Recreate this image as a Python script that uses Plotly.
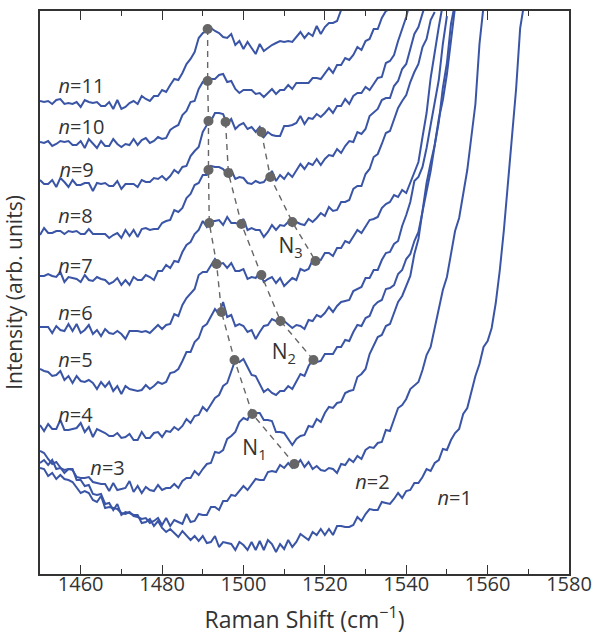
import plotly.graph_objects as go

X_START = 1450  # first Raman shift of every spectrum (cm^-1), 1 cm^-1 sampling

# Spectra (arb. units, vertically offset), one list per number of layers n
n11 = [473,472,473,470,474,475,470,471,470,472, 467,474,472,471,472,468,468,472,465,474,
       465,467,471,473,470,478,475,473,478,478, 484,482,489,495,494,501,510,515,522,536,
       541,543,546,543,541,537,536,540,529,533, 525,532,526,520,530,523,526,529,531,533,
       532,533,532,537,542,536,541,538,548,540, 547,551,551,553,564,566,569]
n10 = [432,431,433,428,430,433,432,433,429,429, 433,426,435,431,426,433,428,428,435,430,
       427,430,429,435,429,434,436,431,433,437, 435,436,444,447,449,459,463,472,473,485,
       492,491,495,495,499,500,492,493,485,481, 484,484,484,480,481,477,481,485,480,484,
       484,489,485,491,491,491,491,496,496,495, 500,506,501,509,509,516,514,519,527,524,
       533,535,545,545,556,563,565]
n9 = [394,390,390,394,387,396,392,387,394,389, 389,391,391,383,391,390,391,388,388,393,
      385,390,390,390,387,394,392,392,396,395, 398,394,398,404,401,407,408,418,423,427,
      442,449,453,461,461,460,450,455,445,449, 451,445,447,442,447,437,442,439,438,438,
      448,448,449,451,458,450,456,455,460,457, 461,466,461,468,468,475,470,478,481,481,
      487,484,490,496,497,511,513,519,533,544, 557,574]
n8 = [339,346,341,341,343,343,340,343,342,343, 340,340,345,340,340,340,340,336,339,341,
      336,344,338,344,337,345,346,344,345,345, 351,353,354,364,362,366,376,380,389,391,
      399,399,408,407,407,405,400,404,395,397, 396,391,390,393,391,392,397,403,393,399,
      395,401,397,403,410,405,411,409,415,409, 415,419,418,425,421,428,433,432,442,440,
      445,458,462,465,474,476,476,488,493,505, 510,525,540,547,562,574]
n7 = [298,298,300,298,297,302,292,297,296,295, 292,299,294,293,297,295,294,290,292,296,
      289,294,289,297,294,294,299,297,294,303, 303,309,306,313,312,322,329,332,340,344,
      353,347,353,353,354,349,357,351,351,350, 355,344,346,344,344,337,342,349,344,349,
      348,352,348,352,350,349,355,352,356,361, 358,367,363,364,372,372,374,385,388,388,
      400,405,417,420,430,441,443,454,466,473, 479,492,502,510,527,535,554,562]
n6 = [247,247,247,241,248,244,243,250,243,250, 241,244,249,240,244,238,245,241,240,243,
      240,235,243,243,243,242,243,241,245,249, 245,249,250,260,258,269,276,280,285,299,
      302,302,309,315,310,311,306,311,303,303, 305,295,297,296,302,292,295,297,291,296,
      288,292,296,294,305,303,305,314,314,314, 321,321,318,326,326,333,331,337,344,341,
      347,354,355,357,366,370,372,379,377,384, 381,391,401,412,437,461,496,523,547,570]
n5 = [205,203,202,198,199,203,194,198,191,198, 193,192,194,191,185,192,187,192,183,188,
      180,188,185,184,183,184,189,185,188,192, 190,192,201,202,205,213,222,222,232,236,
      247,250,257,265,260,272,257,259,248,250, 248,242,244,235,242,248,249,255,253,249,
      253,249,246,249,248,245,254,253,259,257, 261,267,262,268,272,273,274,283,285,287,
      296,296,304,304,314,321,322,330,333,348, 359,372,393,397,407,426,449,472,494,530,
      558]
n4 = [149,143,150,145,145,154,144,144,145,146, 151,142,147,137,145,143,141,138,138,141,
      136,137,140,134,134,142,136,136,141,142, 137,143,142,147,144,148,155,151,158,159,
      167,163,170,176,179,188,191,203,214,212, 215,207,199,198,190,182,185,181,179,183,
      183,188,185,192,200,198,208,214,212,213, 220,220,220,227,227,234,233,242,249,248,
      256,258,268,272,274,285,286,289,300,304, 315,320,333,342,363,384,403,429,452,486,
      511,550,571]
n3 = [111,114,109,114,105,106,104,105,104,97, 96,96,97,92,91,90,90,83,91,84,
      85,86,93,82,88,81,87,84,83,89, 84,86,86,90,86,93,96,96,103,99,
      105,110,111,122,121,124,135,138,142,152, 156,154,163,161,161,154,154,153,142,142,
      141,135,129,135,138,139,148,147,155,152, 161,167,166,171,172,181,183,184,197,200,
      205,220,228,237,239,248,250,262,272,278, 288,298,320,335,363,391,411,429,455,474,
      500,535,567]
n2 = [106,105,98,101,95,99,95,94,92,86, 81,83,81,74,72,78,66,67,66,65,
      61,60,62,58,57,55,56,51,53,56, 49,56,48,54,52,50,60,52,53,60,
      59,59,67,67,64,73,73,79,78,83, 88,84,90,95,94,94,102,103,102,109,
      106,111,106,109,114,107,112,105,108,104, 103,106,105,101,110,109,115,112,118,115,
      124,127,126,131,132,144,143,155,166,169, 175,185,189,192,204,219,227,246,266,284,
      297,319,343,356,380,404,437,470,530,568]
n1 = [123,121,115,110,112,106,101,105,105,94, 94,88,89,80,79,80,70,71,64,70,
      59,62,61,59,59,51,52,55,48,53, 46,42,45,41,37,43,38,34,38,33,
      38,31,32,38,27,32,31,30,24,32, 29,24,32,24,33,24,34,30,22,30,
      25,34,27,32,40,37,34,42,39,45, 39,45,39,48,48,47,47,49,57,53,
      60,65,64,64,72,71,70,75,81,76, 83,84,91,91,97,105,103,111,114,125,
      124,134,141,145,160,166,182,198,210,227, 233,246,271,304,344,392,442,485,546,571]

spectra = [n1, n2, n3, n4, n5, n6, n7, n8, n9, n10, n11]

# Peak positions (cm^-1) and heights of the tracked modes
N1_x = [1491.2, 1491.2, 1491.4, 1491.4, 1491.6, 1493.4, 1494.6, 1497.8, 1502.2, 1512.5]
N1_y = [545, 493, 453, 404, 351, 310, 262, 214, 160, 110]
N2_x = [1495.6, 1496.3, 1499.5, 1504.4, 1509.1, 1517.2]
N2_y = [452, 401, 350, 299, 253, 214]
N3_x = [1504.4, 1506.6, 1512.0, 1517.7]
N3_y = [442, 397, 352, 313]

# Curve labels
lab_text = ["<i>n</i>=11", "<i>n</i>=10", "<i>n</i>=9", "<i>n</i>=8", "<i>n</i>=7", "<i>n</i>=6",
            "<i>n</i>=5", "<i>n</i>=4", "<i>n</i>=3", "<i>n</i>=2", "<i>n</i>=1"]
lab_x = [1460.2, 1460.2, 1459.0, 1458.7, 1458.7, 1458.7, 1458.7, 1458.7, 1466.6, 1531.7, 1551.9]
lab_y = [486, 445, 402, 356, 306, 259, 212, 157, 104, 90, 74]

mode_text = ["N<sub>1</sub>", "N<sub>2</sub>", "N<sub>3</sub>"]
mode_x = [1502.7, 1509.9, 1511.6]
mode_y = [124, 220, 326]

xticks = [1460, 1480, 1500, 1520, 1540, 1560, 1580]
xminor = [1450, 1470, 1490, 1510, 1530, 1550, 1570]

LINE = "#3a55a6"
DOT = "#666666"
TXT = "#333333"
FONT = "Open Sans"

fig = go.Figure()
for s in spectra:
    fig.add_trace(go.Scatter(x=[X_START + i for i in range(len(s))], y=s, mode="lines",
                             line=dict(color=LINE, width=2), hoverinfo="skip"))

for mx, my in [(N1_x, N1_y), (N2_x, N2_y), (N3_x, N3_y)]:
    fig.add_trace(go.Scatter(x=mx, y=my, mode="lines+markers",
                             line=dict(color=DOT, width=1.4, dash="6px,5px"),
                             marker=dict(color=DOT, size=10)))

fig.add_trace(go.Scatter(x=lab_x, y=lab_y, mode="text", text=lab_text,
                         textfont=dict(size=20, color=TXT, family=FONT)))
fig.add_trace(go.Scatter(x=mode_x, y=mode_y, mode="text", text=mode_text,
                         textfont=dict(size=21, color=TXT, family=FONT)))

fig.update_layout(
    width=593, height=640,
    margin=dict(l=40, r=24, t=11, b=66, autoexpand=False),
    plot_bgcolor="white", paper_bgcolor="white",
    showlegend=False,
    font=dict(family=FONT, size=20, color=TXT),
)
fig.update_xaxes(range=[1450, 1580], tickvals=xticks, ticks="inside", ticklen=9,
                 tickwidth=1.3, tickcolor=TXT, showline=True, linecolor=TXT, linewidth=1.6,
                 mirror="ticks", showgrid=False, zeroline=False, automargin=False,
                 ticklabelstandoff=-9, ticklabeloverflow="allow",
                 minor=dict(tickvals=xminor, ticks="inside",
                            ticklen=5, tickwidth=1.3, tickcolor=TXT, showgrid=False),
                 tickfont=dict(size=20, color=TXT, family=FONT),
                 title=dict(text="Raman Shift (cm<sup>−1</sup>)",
                            font=dict(size=23, color=TXT, family=FONT), standoff=16))
fig.update_yaxes(range=[0, 563], showticklabels=False, ticks="", showline=True,
                 linecolor=TXT, linewidth=1.6, mirror=True, showgrid=False, zeroline=False,
                 automargin=False,
                 title=dict(text="Intensity (arb. units)",
                            font=dict(size=21, color=TXT, family=FONT), standoff=12))

# remove the default page margin so the 593x640 figure fills the window exactly
fig.write_html("out.html", config={"displayModeBar": False},
               post_script="document.body.style.margin='0';document.body.style.overflow='hidden';")
